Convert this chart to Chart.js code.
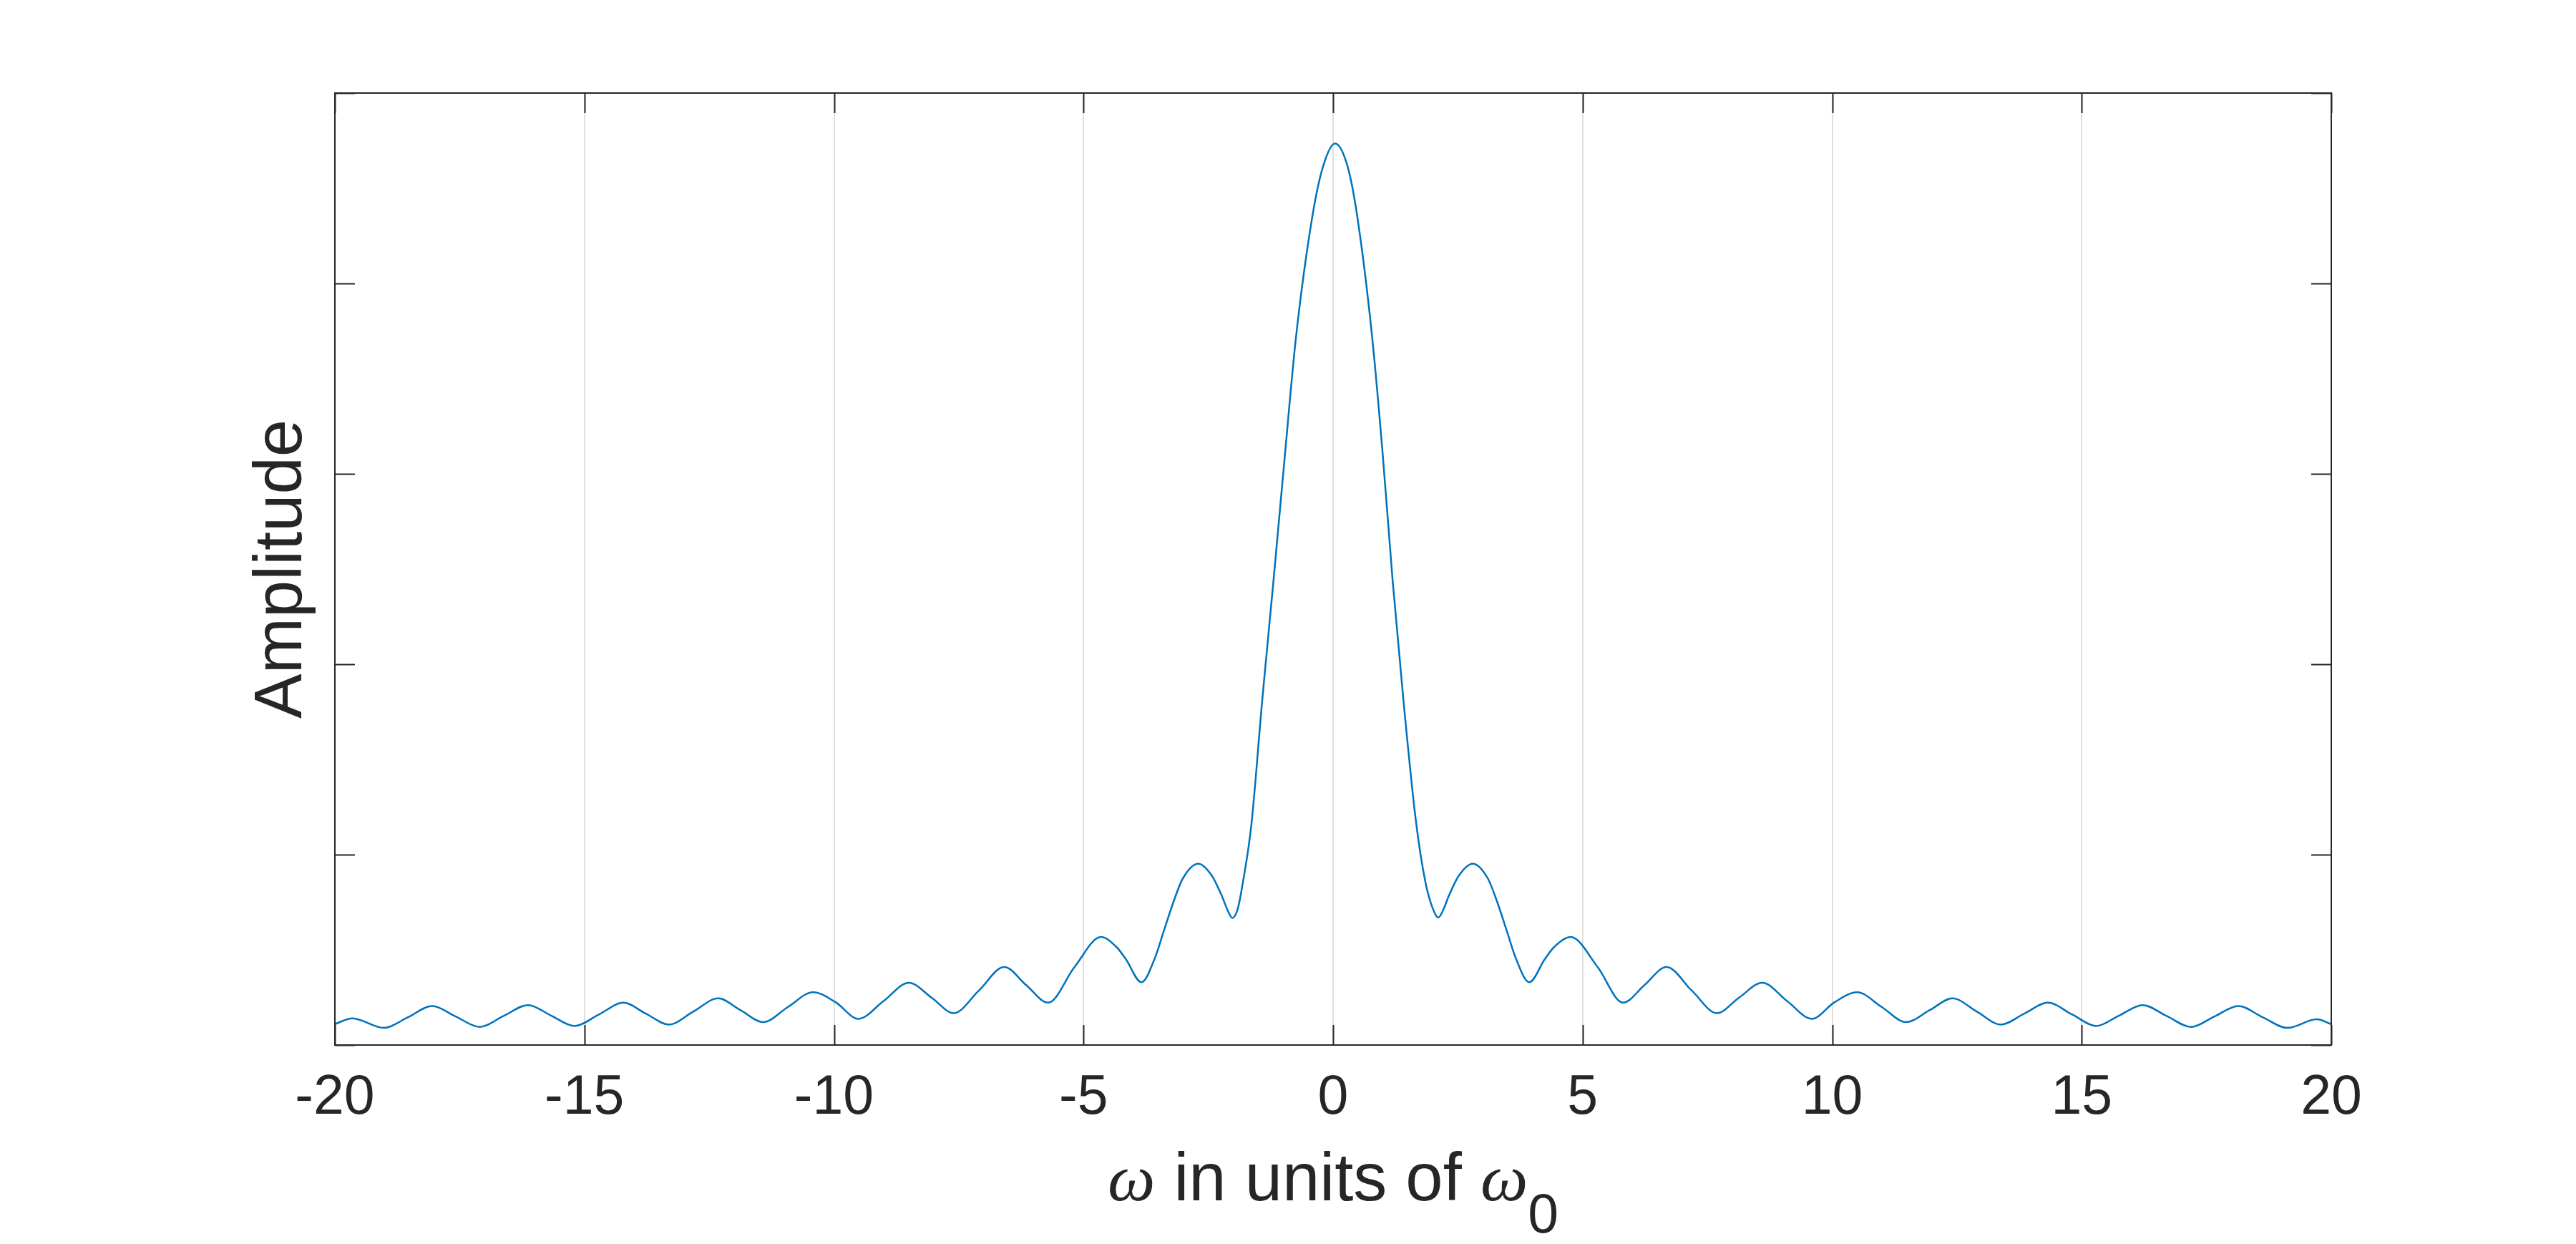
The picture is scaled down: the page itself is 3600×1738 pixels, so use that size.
<!DOCTYPE html>
<html>
<head>
<meta charset="utf-8">
<script src="https://cdn.jsdelivr.net/npm/chart.js@4.4.1/dist/chart.umd.min.js"></script>
<style>
  html, body { margin: 0; padding: 0; background: #ffffff; }
  #wrap { width: 3600px; height: 1738px; }
</style>
</head>
<body>
<div id="wrap"><canvas id="c" width="3600" height="1738"></canvas></div>
<script>
// ---- data ----
const omega = [
  -20.00, -19.65, -19.02, -18.54, -18.05, -17.58, -17.10, -16.62, -16.13, -15.67,
  -15.20, -14.71, -14.22, -13.77, -13.31, -12.82, -12.32, -11.87, -11.42, -10.92,
  -10.42, -9.97, -9.51, -9.01, -8.50, -8.05, -7.60, -7.10, -6.59, -6.15,
  -5.71, -5.18, -4.65, -4.34, -4.15, -3.84, -3.58, -3.39, -3.20, -3.01,
  -2.70, -2.43, -2.24, -2.10, -2.02, -1.91, -1.80, -1.64, -1.42,
  -1.19, -0.97, -0.74, -0.41, -0.20, 0.04, 0.29, 0.48, 0.78, 1.00,
  1.19, 1.41, 1.66, 1.85, 1.98, 2.11, 2.19, 2.33, 2.52, 2.80,
  3.10, 3.29, 3.48, 3.67, 3.93, 4.24, 4.43, 4.76, 5.30, 5.81,
  6.24, 6.68, 7.19, 7.69, 8.14, 8.60, 9.10, 9.59, 10.05, 10.50,
  10.99, 11.48, 11.95, 12.41, 12.90, 13.38, 13.85, 14.32, 14.81, 15.29,
  15.75, 16.22, 16.70, 17.19, 17.66, 18.14, 18.63, 19.12, 19.71, 20.00
];
const amplitude = [
  2.2, 2.8, 1.8, 2.9, 4.1, 3.0, 1.9, 3.05, 4.2, 3.1,
  2.0, 3.2, 4.45, 3.3, 2.15, 3.5, 4.9, 3.65, 2.4, 4.0,
  5.55, 4.5, 2.75, 4.6, 6.55, 5.0, 3.35, 5.7, 8.2, 6.3,
  4.45, 8.2, 11.35, 10.3, 9.0, 6.6, 9.0, 12.0, 15.0, 17.5,
  19.05, 17.8, 15.8, 14.0, 13.35, 14.3, 17.3, 23.0, 36.2,
  49.0, 61.7, 74.5, 87.2, 92.3, 94.7, 92.3, 87.2, 74.5, 61.7,
  49.0, 36.2, 23.5, 17.1, 14.6, 13.4, 14.0, 15.8, 17.8, 19.05,
  17.5, 15.0, 12.0, 9.0, 6.6, 9.0, 10.3, 11.35, 8.2, 4.45,
  6.3, 8.2, 5.7, 3.35, 5.0, 6.55, 4.6, 2.75, 4.5, 5.55,
  4.0, 2.4, 3.65, 4.9, 3.5, 2.15, 3.3, 4.45, 3.2, 2.0,
  3.1, 4.2, 3.05, 1.9, 3.0, 4.1, 2.9, 1.8, 2.7, 2.2
];
const xTickValues = [-20, -15, -10, -5, 0, 5, 10, 15, 20];
const xTickLabels = ['-20', '-15', '-10', '-5', '0', '5', '10', '15', '20'];
const yTickValues = [0, 20, 40, 60, 80, 100];
const xTitleParts = ['\u03C9', ' in units of ', '\u03C9', '0'];
const yTitle = 'Amplitude';

// ---- styling ----
const AXIS_COLOR = '#262626';
const LINE_COLOR = '#0072BD';
const GRID_COLOR = '#dfdfdf';
const SANS = '"Liberation Sans", Arial, Helvetica, sans-serif';
const SERIF = '"Liberation Serif", "Times New Roman", serif';
const TICK_LEN = 28;

const points = omega.map((w, i) => ({ x: w, y: amplitude[i] }));

const matlabAxes = {
  id: 'matlabAxes',
  afterDraw(chart) {
    const ctx = chart.ctx;
    const { left, right, top, bottom } = chart.chartArea;
    const xs = chart.scales.x, ys = chart.scales.y;
    ctx.save();
    ctx.strokeStyle = AXIS_COLOR;
    ctx.lineWidth = 2;
    ctx.beginPath();
    xTickValues.forEach(v => {
      const px = Math.round(xs.getPixelForValue(v)) + 0.5;
      ctx.moveTo(px, bottom); ctx.lineTo(px, bottom - TICK_LEN);
      ctx.moveTo(px, top); ctx.lineTo(px, top + TICK_LEN);
    });
    yTickValues.forEach(v => {
      const py = Math.round(ys.getPixelForValue(v)) + 0.5;
      ctx.moveTo(left, py); ctx.lineTo(left + TICK_LEN, py);
      ctx.moveTo(right, py); ctx.lineTo(right - TICK_LEN, py);
    });
    ctx.stroke();
    ctx.strokeRect(left, top, right - left, bottom - top);

    // x-axis title with TeX-like omega and subscript
    const parts = [
      { t: xTitleParts[0], f: 'italic 94px ' + SERIF, dy: 0 },
      { t: xTitleParts[1], f: '94px ' + SANS, dy: 0 },
      { t: xTitleParts[2], f: 'italic 94px ' + SERIF, dy: 0 },
      { t: xTitleParts[3], f: '77px ' + SANS, dy: 45 }
    ];
    let total = 0;
    parts.forEach(p => { ctx.font = p.f; p.w = ctx.measureText(p.t).width; total += p.w; });
    let x = (left + right) / 2 - total / 2;
    const base = bottom + 217;
    ctx.fillStyle = AXIS_COLOR;
    ctx.textBaseline = 'alphabetic';
    ctx.textAlign = 'left';
    parts.forEach(p => { ctx.font = p.f; ctx.fillText(p.t, x, base + p.dy); x += p.w; });
    ctx.restore();
  }
};

new Chart(document.getElementById('c'), {
  type: 'line',
  data: {
    datasets: [{
      data: points,
      borderColor: LINE_COLOR,
      borderWidth: 2.5,
      pointRadius: 0,
      fill: false,
      cubicInterpolationMode: 'monotone'
    }]
  },
  options: {
    responsive: false,
    devicePixelRatio: 1,
    animation: false,
    events: [],
    layout: { padding: { left: 0, top: 130, right: 342, bottom: 0 } },
    plugins: { legend: { display: false }, tooltip: { enabled: false } },
    scales: {
      x: {
        type: 'linear',
        min: -20, max: 20,
        afterBuildTicks: s => { s.ticks = xTickValues.map(v => ({ value: v })); },
        afterFit: s => { s.height = 278; },
        ticks: {
          autoSkip: false, maxRotation: 0, minRotation: 0,
          padding: 29,
          color: AXIS_COLOR,
          font: { family: SANS, size: 77 },
          callback: v => xTickLabels[xTickValues.indexOf(v)]
        },
        grid: { display: true, drawTicks: false, color: GRID_COLOR, lineWidth: 2 },
        border: { display: false },
        title: { display: false }
      },
      y: {
        type: 'linear',
        min: 0, max: 100,
        afterBuildTicks: s => { s.ticks = yTickValues.map(v => ({ value: v })); },
        afterFit: s => { s.width = 468; },
        ticks: { display: false },
        grid: { display: false, drawTicks: false },
        border: { display: false },
        title: {
          display: true,
          text: yTitle,
          color: AXIS_COLOR,
          font: { family: SANS, size: 94 },
          padding: { top: 339, bottom: 0 }
        }
      }
    }
  },
  plugins: [matlabAxes]
});
</script>
</body>
</html>
